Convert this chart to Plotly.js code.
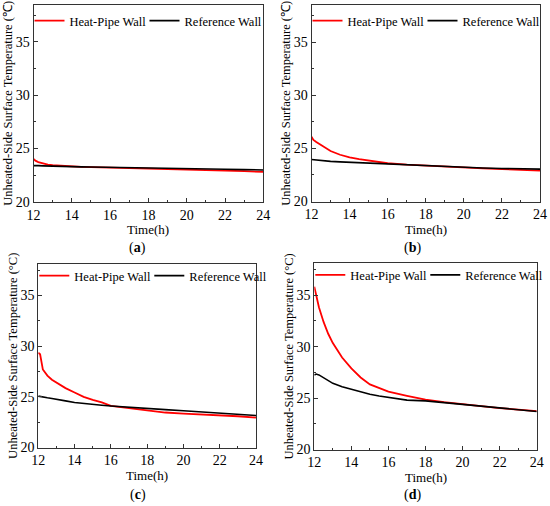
<!DOCTYPE html>
<html>
<head>
<meta charset="utf-8">
<script src="https://cdn.plot.ly/plotly-3.0.1.min.js"></script>
<style>html,body{margin:0;padding:0;background:#fff;}#chart{width:550px;height:506px;}</style>
</head>
<body>
<div id="chart"></div>
<script>
// Shared time grid (h)
const timeH = [12, 12.1, 12.25, 12.5, 12.75, 13, 13.5, 14, 14.5, 15, 15.5, 16, 17, 18, 19, 20, 21, 22, 23, 24];

// Panel (a)
const heatPipeA = [24.0, 23.85, 23.72, 23.58, 23.48, 23.42, 23.35, 23.3, 23.27, 23.24, 23.22, 23.2, 23.15, 23.1, 23.05, 23.0, 22.96, 22.91, 22.86, 22.8];
const referenceA = [23.38, 23.4, 23.38, 23.36, 23.34, 23.33, 23.31, 23.29, 23.27, 23.26, 23.24, 23.22, 23.19, 23.16, 23.13, 23.1, 23.07, 23.04, 23.01, 22.98];

// Panel (b)
const heatPipeB = [26.1, 25.8, 25.6, 25.3, 25.0, 24.75, 24.4, 24.15, 23.98, 23.83, 23.7, 23.6, 23.47, 23.37, 23.28, 23.2, 23.12, 23.05, 22.98, 22.9];
const referenceB = [23.95, 23.93, 23.9, 23.85, 23.8, 23.78, 23.73, 23.69, 23.65, 23.61, 23.57, 23.53, 23.45, 23.37, 23.28, 23.22, 23.16, 23.11, 23.08, 23.05];

// Panel (c)
const heatPipeC = [29.35, 29.2, 27.7, 27.09, 26.69, 26.42, 25.86, 25.43, 25.0, 24.7, 24.45, 24.1, 23.9, 23.7, 23.45, 23.35, 23.27, 23.18, 23.08, 22.95];
const referenceC = [25.07, 25.05, 25.0, 24.9, 24.83, 24.77, 24.6, 24.44, 24.33, 24.24, 24.17, 24.1, 24.0, 23.87, 23.74, 23.62, 23.5, 23.4, 23.3, 23.15];

// Panel (d)
const heatPipeD = [35.82, 34.95, 33.83, 32.4, 31.25, 30.35, 28.94, 27.88, 27.0, 26.33, 25.95, 25.63, 25.22, 24.84, 24.6, 24.39, 24.2, 24.03, 23.87, 23.74];
const referenceD = [27.23, 27.33, 27.25, 27.0, 26.7, 26.43, 26.1, 25.85, 25.6, 25.37, 25.2, 25.05, 24.8, 24.73, 24.57, 24.39, 24.23, 24.06, 23.9, 23.7];

const seriesNames = ['Heat-Pipe Wall', 'Reference Wall'];
const panelLabels = ['a', 'b', 'c', 'd'];
const yTitleAB = 'Unheated-Side Surface Temperature (\u2103)';
const yTitleCD = 'Unheated-Side Surface Temperature (\u00B0C)';
const xTitle = 'Time(h)';

const panels = [
  {hp: heatPipeA, ref: referenceA},
  {hp: heatPipeB, ref: referenceB},
  {hp: heatPipeC, ref: referenceC},
  {hp: heatPipeD, ref: referenceD}
];

const W = 550, H = 506;
// plot boxes in pixels: [left, right, top, bottom]
const boxes = [
  [33.5, 263.3, 5, 201.7],
  [311.5, 540, 5, 201.5],
  [38.3, 256, 264, 447.5],
  [314.3, 536.7, 263.3, 449.5]
];
const yMax = [38.45, 38.5, 38.1, 38.1];
const legendTopOffset = [1, 1, -3, -3];
const xTitleY = [229.5, 229.5, 475.5, 477];
const captionY = [248.3, 248.3, 495, 494.5];

const RED = '#ff0000', BLACK = '#000000', AXC = '#333333';
const FONT = 'Liberation Serif';

const traces = [];
const layout = {
  width: W, height: H,
  margin: {l: 0, r: 0, t: 0, b: 0},
  paper_bgcolor: '#ffffff', plot_bgcolor: '#ffffff',
  font: {family: FONT, color: '#000', size: 13},
  showlegend: true,
  annotations: []
};

panels.forEach((p, i) => {
  const n = i === 0 ? '' : String(i + 1);
  const legendId = 'legend' + n;
  traces.push({
    x: timeH, y: p.hp, type: 'scatter', mode: 'lines', name: seriesNames[0],
    line: {color: RED, width: 1.8}, xaxis: 'x' + n, yaxis: 'y' + n, legend: legendId,
    legendwidth: 70
  });
  traces.push({
    x: timeH, y: p.ref, type: 'scatter', mode: 'lines', name: seriesNames[1],
    line: {color: BLACK, width: 1.6}, xaxis: 'x' + n, yaxis: 'y' + n, legend: legendId
  });
  const b = boxes[i];
  const common = {
    showline: true, linecolor: AXC, linewidth: 1, mirror: true,
    ticks: 'inside', ticklen: 4, tickcolor: AXC, tickwidth: 1,
    showgrid: false, zeroline: false,
    tickfont: {family: FONT, size: 14, color: '#000'}
  };
  layout['xaxis' + n] = Object.assign({}, common, {
    domain: [b[0] / W, b[1] / W], anchor: 'y' + n,
    range: [12, 24], tick0: 12, dtick: 2,
    minor: {ticks: 'inside', ticklen: 2, dtick: 1, tickcolor: AXC, showgrid: false}
  });
  layout['yaxis' + n] = Object.assign({}, common, {
    domain: [1 - b[3] / H, 1 - b[2] / H], anchor: 'x' + n,
    range: [20, yMax[i]], tick0: 20, dtick: 5,
    minor: {ticks: 'inside', ticklen: 2, dtick: 2.5, tickcolor: AXC, showgrid: false},
    title: {text: i < 2 ? yTitleAB : yTitleCD, standoff: 0, font: {family: FONT, size: 12.5, color: '#000'}}
  });
  layout[legendId] = {
    x: (b[0] - 4) / W, y: 1 - (b[2] + legendTopOffset[i]) / H, xanchor: 'left', yanchor: 'top',
    orientation: 'h', bgcolor: 'rgba(0,0,0,0)', borderwidth: 0,
    font: {family: FONT, size: 12.5, color: '#000'},
    itemwidth: 30
  };
  // x-axis title (placed as paper annotation for exact position)
  layout.annotations.push({
    xref: 'paper', yref: 'paper', x: ((b[0] + b[1]) / 2) / W, y: 1 - xTitleY[i] / H,
    xanchor: 'center', yanchor: 'middle', showarrow: false,
    text: xTitle, font: {family: FONT, size: 13, color: '#000'}
  });
  layout.annotations.push({
    xref: 'paper', yref: 'paper', x: (i % 2 === 0 ? 137.5 : 412.5) / W, y: 1 - captionY[i] / H,
    xanchor: 'center', yanchor: 'middle', showarrow: false,
    text: '(<b>' + panelLabels[i] + '</b>)', font: {family: FONT, size: 14, color: '#000'}
  });
});

Plotly.newPlot('chart', traces, layout, {displayModeBar: false, staticPlot: true});
</script>
</body>
</html>
